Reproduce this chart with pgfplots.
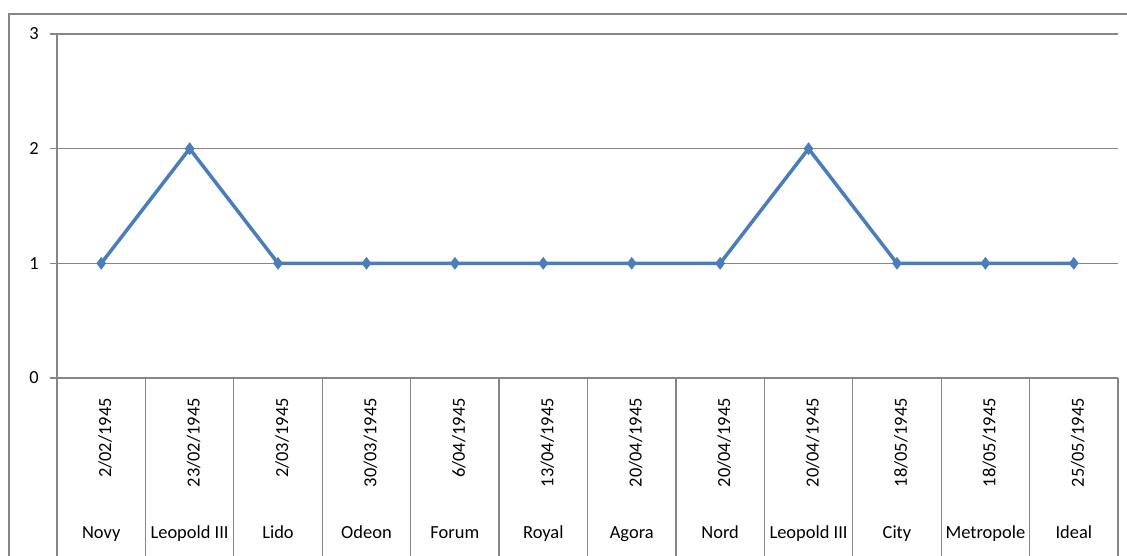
\documentclass[border=0pt]{standalone}
\usepackage{pgfplots}
\pgfplotsset{compat=1.18}
\usepackage{fontspec}
\setmainfont{Carlito}
\definecolor{xlblue}{HTML}{4A7EBB}
\definecolor{xlgrid}{HTML}{868686}
\begin{document}
\fontsize{18.5}{22}\selectfont
\begin{tikzpicture}
\useasboundingbox (0,0) rectangle (1127bp,556bp);
\begin{scope}
\clip (0,0) rectangle (1127bp,556bp);
\draw[xlgrid, line width=1.2bp] (9bp,542bp) rectangle (1160bp,-30bp);
\end{scope}
\begin{axis}[
  at={(57bp,178bp)}, anchor=south west,
  scale only axis, width=1061bp, height=344bp,
  xmin=0, xmax=12, ymin=0, ymax=3,
  axis x line*=bottom, axis y line*=left,
  axis line style={xlgrid, line width=1.2bp, -},
  /pgf/number format/assume math mode=true,
  ytick={0,1,2,3},
  ymajorgrids, grid style={xlgrid, line width=1.2bp},
  tick align=outside, major tick length=7bp,
  ytick style={xlgrid, line width=1.2bp},
  yticklabel style={anchor=east, inner sep=0pt, xshift=-11bp, font=\fontsize{18.5}{22}\selectfont},
  xtick={0.5,1.5,...,11.5},
  xticklabels={2/02/1945,23/02/1945,2/03/1945,30/03/1945,6/04/1945,13/04/1945,20/04/1945,20/04/1945,20/04/1945,18/05/1945,18/05/1945,25/05/1945},
  xtick style={draw=none},
  xticklabel style={inner sep=0pt, anchor=base east, xshift=10bp, yshift=-13bp, rotate=90, font=\fontsize{18.5}{22}\selectfont},
  extra x ticks={0.5,1.5,...,11.5},
  extra x tick labels={Novy,Leopold III,Lido,Odeon,Forum,Royal,Agora,Nord,Leopold III,City,Metropole,Ideal},
  extra x tick style={every x tick label/.style={inner sep=0pt, anchor=base, yshift=-153bp, font=\fontsize{18.5}{22}\selectfont}, xtick style={draw=none}, grid=none},
  clip=false,
]
\addplot[xlblue, line width=3.5bp, mark=diamond*, mark size=6bp, mark options={solid, fill=xlblue, draw=xlblue, line width=0.5bp}]
  coordinates {(0.5,1) (1.5,2) (2.5,1) (3.5,1) (4.5,1) (5.5,1) (6.5,1) (7.5,1) (8.5,2) (9.5,1) (10.5,1) (11.5,1)};
\pgfplotsinvokeforeach{0,...,12}{
  \draw[xlgrid, line width=1.2bp] (axis cs:#1,0) -- ++(0,-200bp);
}
\end{axis}
\end{tikzpicture}
\end{document}
